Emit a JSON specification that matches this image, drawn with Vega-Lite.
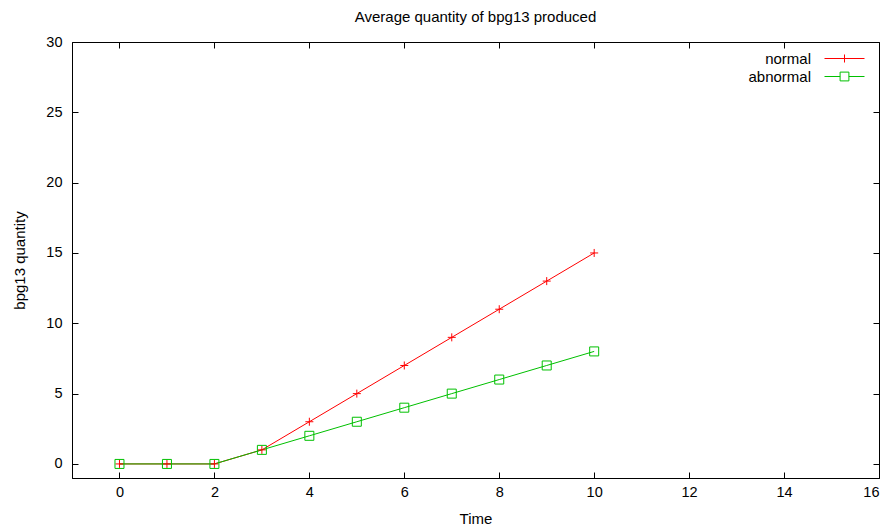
{
  "$schema": "https://vega.github.io/schema/vega-lite/v6.json",
  "autosize": "none",
  "width": 807,
  "height": 436,
  "padding": {"left": 72, "top": 42, "right": 12, "bottom": 51},
  "background": "white",
  "title": {"text": "Average quantity of bpg13 produced", "fontSize": 15, "fontWeight": "normal", "font": "Liberation Sans", "color": "black", "offset": 9, "anchor": "middle"},
  "config": {
    "view": {"stroke": "black", "strokeWidth": 1},
    "axis": {"labelFont": "Liberation Sans", "titleFont": "Liberation Sans", "labelFontSize": 14.5, "titleFontSize": 15, "titleFontWeight": "normal", "labelColor": "black", "titleColor": "black", "domainColor": "black", "tickColor": "black", "grid": false, "tickSize": -6}
  },
  "data": {"values": [
    {"Time": 0, "q": 0, "series": "normal"},
    {"Time": 1, "q": 0, "series": "normal"},
    {"Time": 2, "q": 0, "series": "normal"},
    {"Time": 3, "q": 1, "series": "normal"},
    {"Time": 4, "q": 3, "series": "normal"},
    {"Time": 5, "q": 5, "series": "normal"},
    {"Time": 6, "q": 7, "series": "normal"},
    {"Time": 7, "q": 9, "series": "normal"},
    {"Time": 8, "q": 11, "series": "normal"},
    {"Time": 9, "q": 13, "series": "normal"},
    {"Time": 10, "q": 15, "series": "normal"},
    {"Time": 0, "q": 0, "series": "abnormal"},
    {"Time": 1, "q": 0, "series": "abnormal"},
    {"Time": 2, "q": 0, "series": "abnormal"},
    {"Time": 3, "q": 1, "series": "abnormal"},
    {"Time": 4, "q": 2, "series": "abnormal"},
    {"Time": 5, "q": 3, "series": "abnormal"},
    {"Time": 6, "q": 4, "series": "abnormal"},
    {"Time": 7, "q": 5, "series": "abnormal"},
    {"Time": 8, "q": 6, "series": "abnormal"},
    {"Time": 9, "q": 7, "series": "abnormal"},
    {"Time": 10, "q": 8, "series": "abnormal"}
  ]},
  "layer": [
    {
      "mark": {"type": "line", "strokeWidth": 1},
      "encoding": {
        "x": {"field": "Time", "type": "quantitative", "scale": {"domain": [-1, 16], "nice": false, "zero": false}, "axis": {"title": "Time", "values": [0, 2, 4, 6, 8, 10, 12, 14, 16], "labelPadding": 13, "titlePadding": 13}},
        "y": {"field": "q", "type": "quantitative", "scale": {"domain": [-1, 30], "nice": false, "zero": false}, "axis": {"title": "bpg13 quantity", "values": [0, 5, 10, 15, 20, 25, 30], "labelPadding": 16, "titlePadding": 18}},
        "color": {"field": "series", "type": "nominal", "scale": {"domain": ["normal", "abnormal"], "range": ["#ff0000", "#00c000"]},
          "legend": {"orient": "none", "legendX": 765, "legendY": 9, "title": null, "padding": 0, "labelFontSize": 15, "labelFont": "Liberation Sans", "labelColor": "black", "symbolSize": 64, "rowPadding": 2, "symbolStrokeWidth": 1, "labelOffset": 0,
            "encode": {
              "symbols": {"update": {"shape": {"signal": "datum.value === 'normal' ? 'M-5,0H5M0,-1V1' : 'M-5,0H-1.1M1.1,0H5M-1.1,-1.1H1.1V1.1H-1.1Z'"}, "fill": {"value": "transparent"}, "stroke": {"signal": "scale('color', datum.value)"}, "strokeWidth": {"value": 1}, "opacity": {"value": 1}}},
              "labels": {"update": {"x": {"value": -26}, "align": {"value": "right"}}}
            }
          }
        }
      }
    },
    {
      "mark": {"type": "point", "filled": false, "strokeWidth": 1, "opacity": 1},
      "encoding": {
        "x": {"field": "Time", "type": "quantitative", "axis": null},
        "y": {"field": "q", "type": "quantitative", "axis": null},
        "color": {"field": "series", "type": "nominal", "legend": null},
        "shape": {"field": "series", "type": "nominal", "scale": {"domain": ["normal", "abnormal"], "range": ["M-1,0H1M0,-1V1", "square"]}, "legend": null},
        "size": {"field": "series", "type": "nominal", "scale": {"domain": ["normal", "abnormal"], "range": [64, 81]}, "legend": null}
      }
    },
    {
      "mark": {"type": "point", "opacity": 0},
      "encoding": {
        "x": {"field": "Time", "type": "quantitative", "axis": {"orient": "top", "labels": false, "domain": false, "title": null, "values": [0, 2, 4, 6, 8, 10, 12, 14, 16]}},
        "y": {"field": "q", "type": "quantitative", "axis": {"orient": "right", "labels": false, "domain": false, "title": null, "values": [0, 5, 10, 15, 20, 25, 30]}}
      }
    }
  ],
  "resolve": {"axis": {"x": "independent", "y": "independent"}, "legend": {"color": "independent"}}
}
